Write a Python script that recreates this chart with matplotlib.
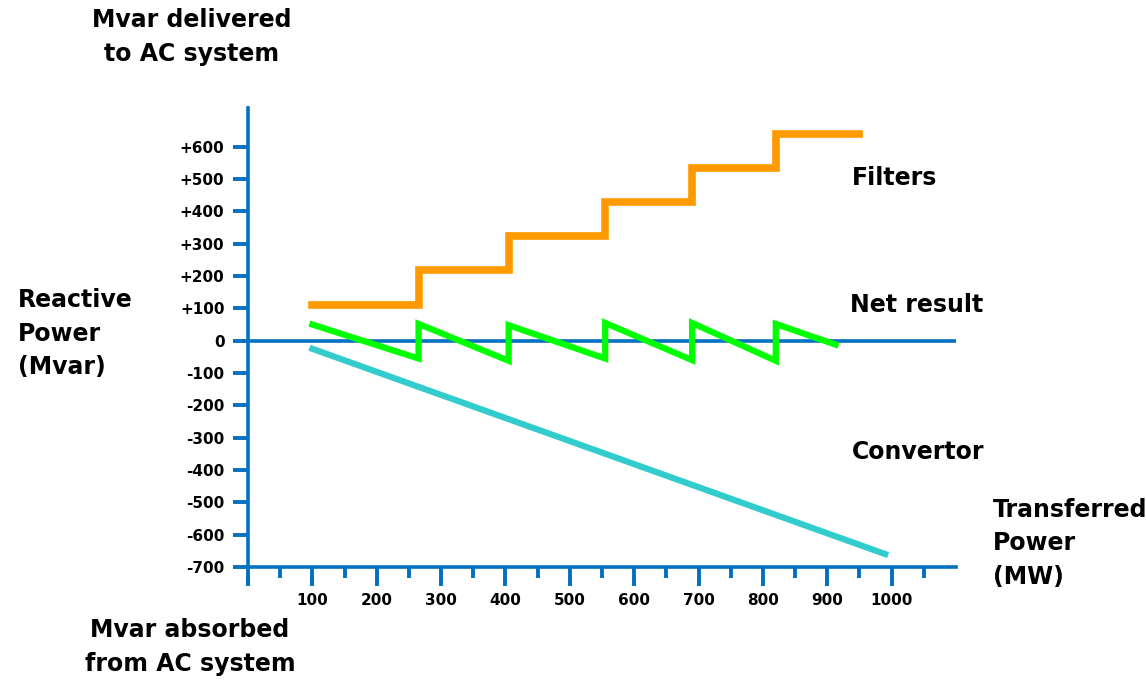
import numpy as np
import matplotlib
matplotlib.use("Agg")
import matplotlib.pyplot as plt

# values
filter_edges = [100, 265, 405, 555, 690, 820, 950]
filter_levels = [110, 220, 323, 430, 535, 640]

net_x = [100, 265, 265, 405, 405, 555, 555, 690, 690, 820, 820, 913]
net_y = [50, -55, 52, -62, 48, -55, 55, -60, 55, -62, 52, -12]

conv_x = [100, 990]
conv_y = [-25, -660]

y_ticks = list(range(-700, 700, 100))
y_labels = [f"+{v}" if v > 0 else str(v) for v in y_ticks]
x_major = list(range(0, 1100, 100))
x_labels = [""] + [str(v) for v in range(100, 1100, 100)]
x_minor = list(range(50, 1100, 100))

BLUE = "#0070C0"
W, H = 1146, 680

fig = plt.figure(figsize=(W / 100, H / 100), dpi=100)
ax = fig.add_axes([248 / W, (H - 567) / H, 708 / W, 459 / H])
ax.set_xlim(0, 1100)
ax.set_ylim(-700, 720)

for s in ["top", "right"]:
    ax.spines[s].set_visible(False)
for s in ["left", "bottom"]:
    ax.spines[s].set_color(BLUE)
    ax.spines[s].set_linewidth(2.6)

ax.set_yticks(y_ticks)
ax.set_yticklabels(y_labels)
ax.set_xticks(x_major)
ax.set_xticklabels(x_labels)
ax.set_xticks(x_minor, minor=True)
ax.tick_params(axis="y", direction="out", length=11, width=2.8, color=BLUE, pad=6)
ax.tick_params(axis="x", which="major", direction="out", length=14, width=2.8, color=BLUE, pad=5)
ax.tick_params(axis="x", which="minor", direction="out", length=8, width=2.8, color=BLUE)
for lab in ax.get_yticklabels() + ax.get_xticklabels():
    lab.set_fontsize(11)
    lab.set_fontweight("bold")

# zero line
ax.axhline(0, color=BLUE, lw=2.6, zorder=1)

# filters (stepped)
ax.plot(filter_edges, filter_levels + [filter_levels[-1]], drawstyle="steps-post",
        color="#FF9900", lw=5.5, solid_joinstyle="miter", zorder=3)
# net result
ax.plot(net_x, net_y, color="#00FF00", lw=4.5, solid_joinstyle="miter", zorder=3)
# convertor
ax.plot(conv_x, conv_y, color="#33CCCC", lw=4.5, zorder=3)

def ftext(x, y, s, **kw):
    fig.text(x / W, 1 - y / H, s, fontsize=17, fontweight="bold", linespacing=1.5, **kw)

ftext(192, 8, "Mvar delivered\nto AC system", ha="center", va="top")
ftext(18, 288, "Reactive\nPower\n(Mvar)", ha="left", va="top")
ftext(852, 178, "Filters", ha="left", va="center")
ftext(850, 305, "Net result", ha="left", va="center")
ftext(852, 452, "Convertor", ha="left", va="center")
ftext(993, 498, "Transferred\nPower\n(MW)", ha="left", va="top")
ftext(190, 618, "Mvar absorbed\nfrom AC system", ha="center", va="top")

fig.savefig("out.png", dpi=100)
